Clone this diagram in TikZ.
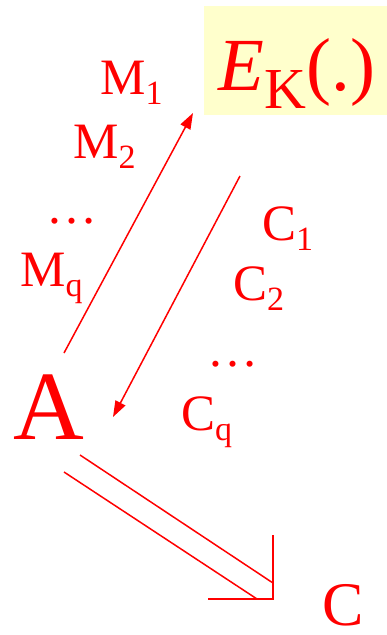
\documentclass[tikz,border=0pt]{standalone}
\usepackage{fontspec}
\setmainfont{Liberation Serif}
\usetikzlibrary{arrows.meta}
\definecolor{keyyellow}{HTML}{FFFFCC}
% lowered small index (M_1, C_q, ...)
\newcommand{\lowidx}[1]{\raisebox{-10pt}{\fontsize{34}{34}\selectfont #1}}

\begin{document}
\begin{tikzpicture}[x=1pt, y=-1pt,
  lbl/.style={text=red, inner sep=0pt, anchor=base west,
    font=\fontsize{51}{51}\selectfont},
  arr/.style={-{Triangle[length=16pt, width=11pt]}, red, line width=1.5pt},
  dbl/.style={red, line width=1.5pt}
]
\useasboundingbox (0,0) rectangle (387,635);
% encryption oracle
\node[fill=keyyellow, inner sep=0pt, minimum width=183pt, minimum height=109pt,
  anchor=north west] (box) at (204,6) {};
\node[lbl, anchor=base, font=\fontsize{75}{75}\selectfont] (enc) at (297,90)
  {\textit{E}\raisebox{-18pt}{\fontsize{58}{58}\selectfont K}(.)};
% queries
\node[lbl] (m1) at (100,94) {M\lowidx{1}};
\node[lbl] (m2) at (73,158) {M\lowidx{2}};
\node[lbl] (mdots) at (46,223) {…};
\node[lbl] (mq) at (20,286) {M\lowidx{q}};
% answers
\node[lbl] (c1) at (262,240) {C\lowidx{1}};
\node[lbl] (c2) at (233,300) {C\lowidx{2}};
\node[lbl] (cdots) at (207,366) {…};
\node[lbl] (cq) at (181,430) {C\lowidx{q}};
% adversary and output
\node[lbl, font=\fontsize{98}{98}\selectfont] (A) at (13,439) {A};
\node[lbl, font=\fontsize{62}{62}\selectfont] (C) at (322,625) {C};
% arrow ends
\coordinate (qfrom) at (64,353);
\coordinate (qto) at (193,113);
\coordinate (afrom) at (240,176);
\coordinate (ato) at (113,417);
\coordinate (out1) at (80,455);
\coordinate (out1e) at (273,583);
\coordinate (out2) at (64,472);
\coordinate (out2e) at (257,599);
\coordinate (tip) at (273,599);
\draw[arr] (qfrom) -- (qto);
\draw[arr] (afrom) -- (ato);
\draw[dbl] (out1) -- (out1e);
\draw[dbl] (out2) -- (out2e);
\draw[dbl] ([yshift=64pt]tip) -- (tip) -- ([xshift=-65pt]tip);
\end{tikzpicture}
\end{document}
